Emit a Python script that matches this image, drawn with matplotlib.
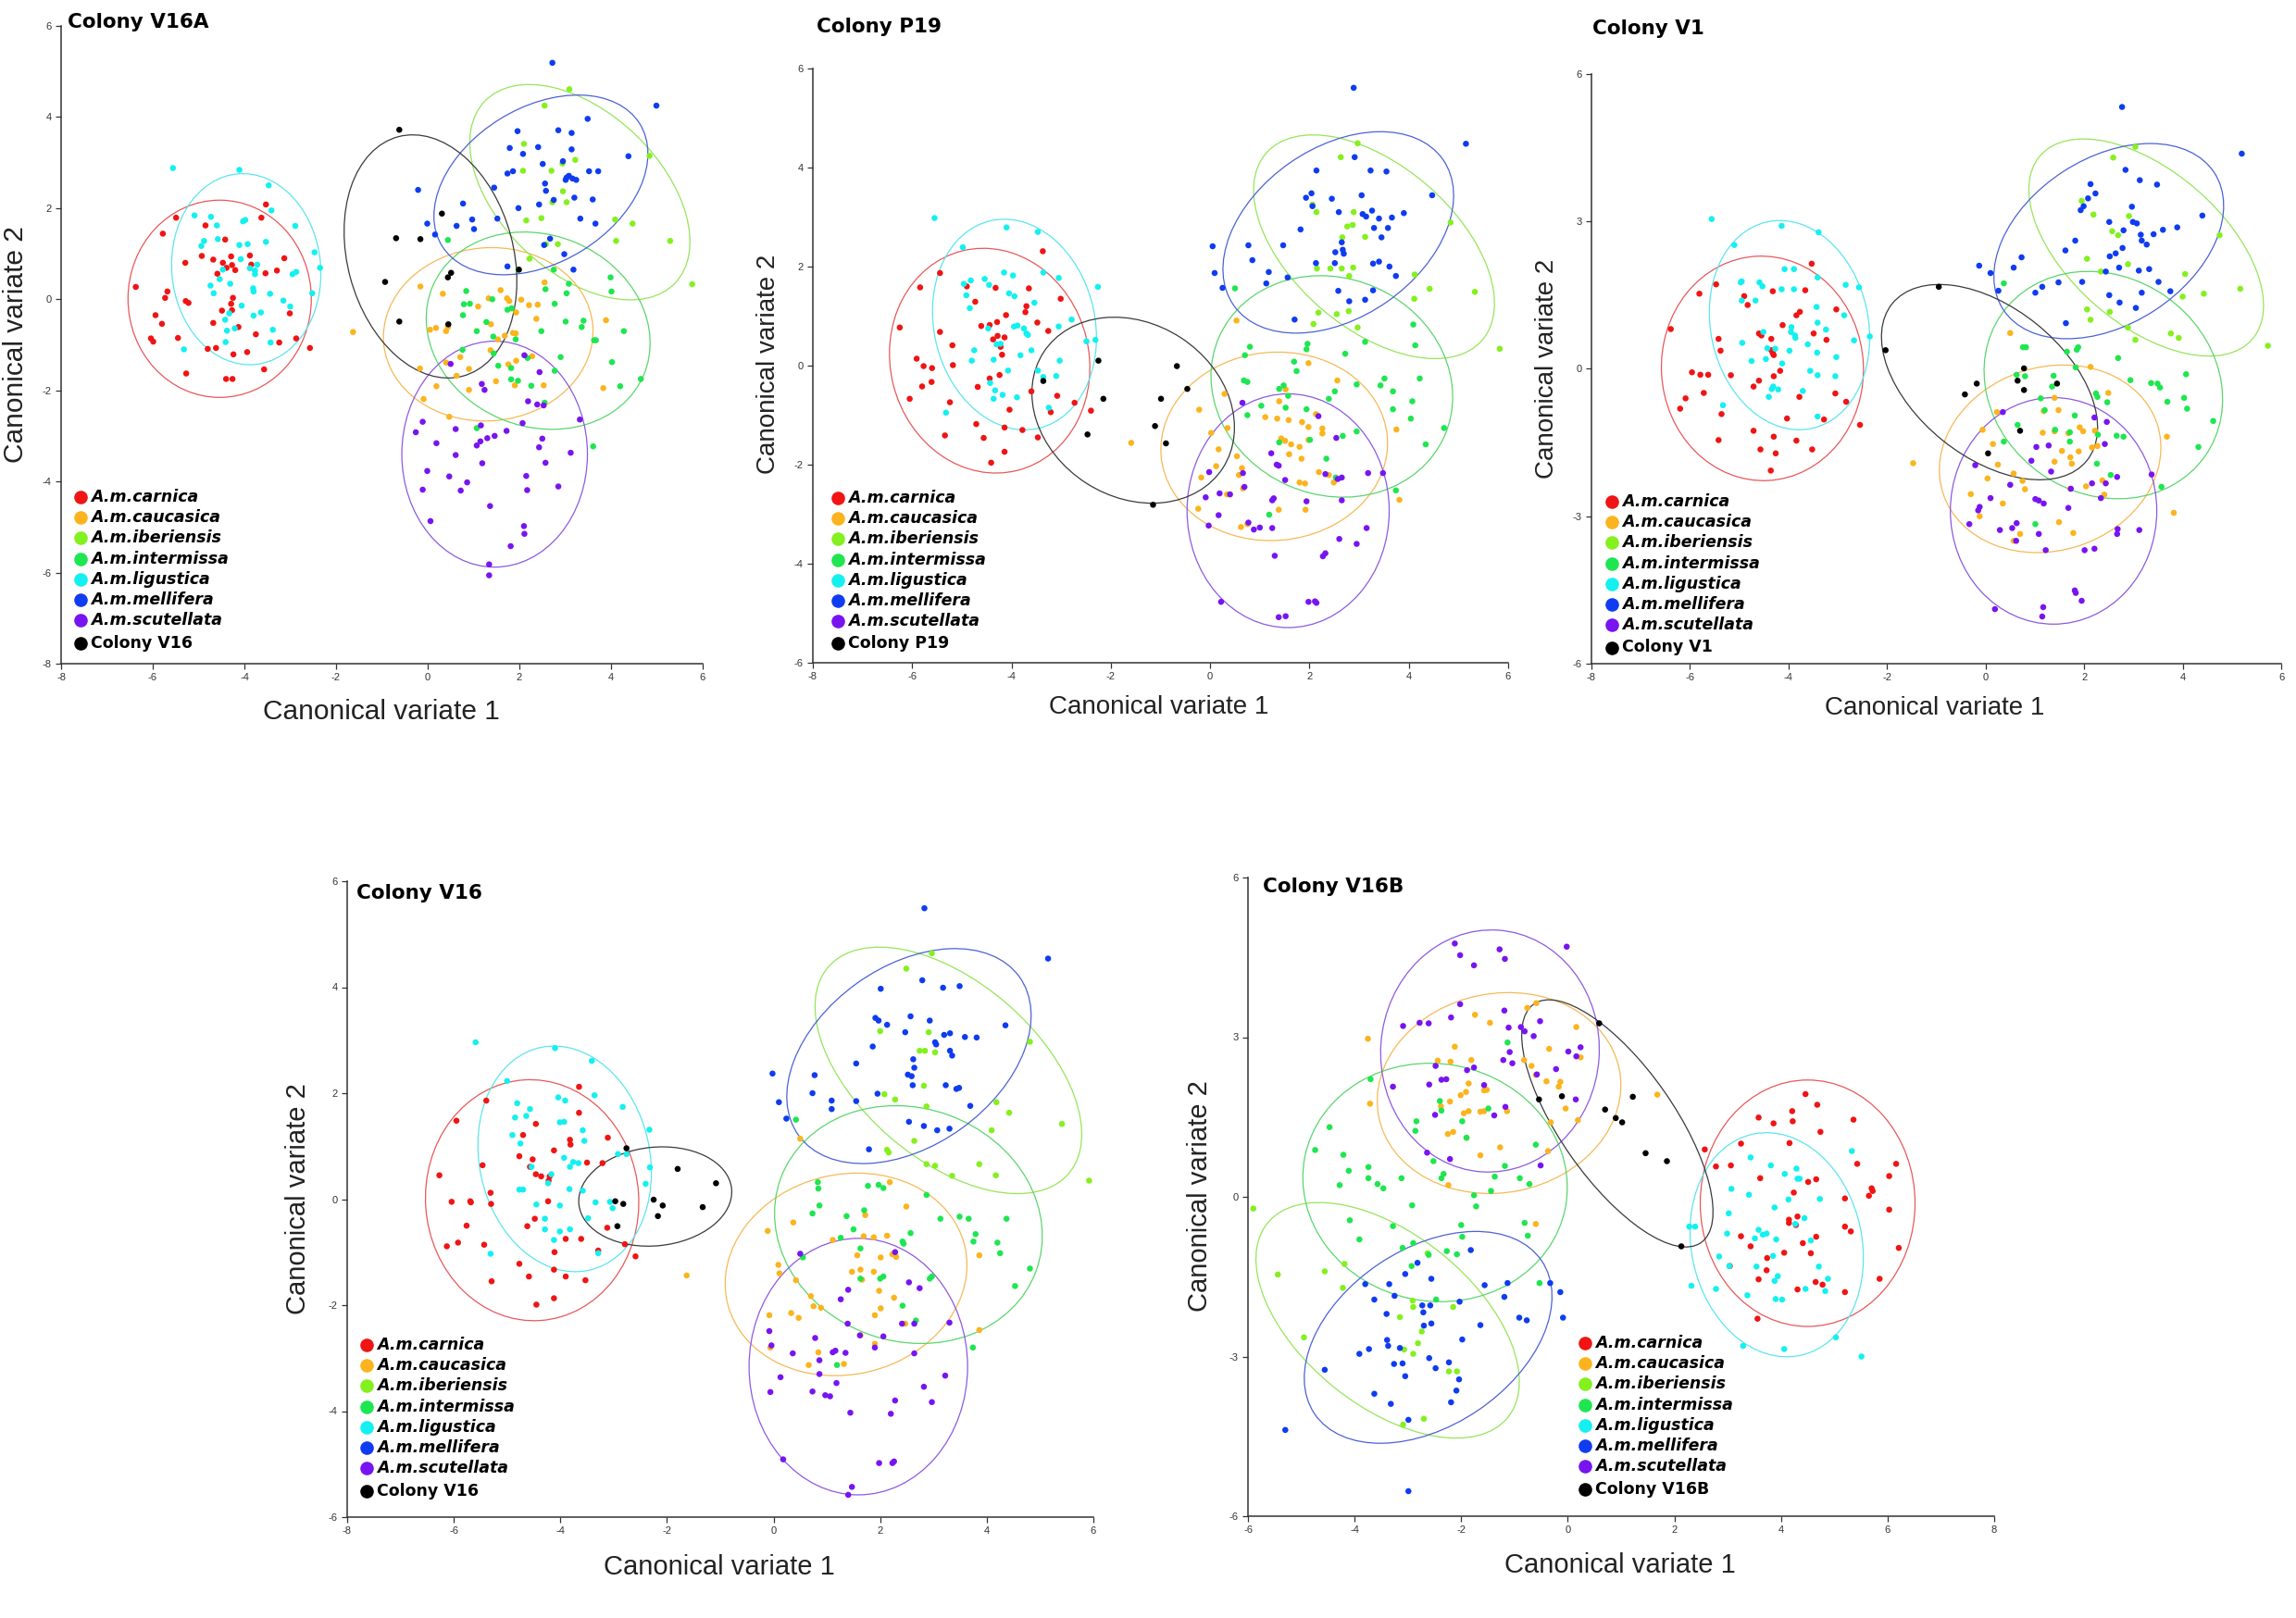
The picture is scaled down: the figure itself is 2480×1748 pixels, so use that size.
import numpy as np
import matplotlib
matplotlib.use('Agg')
import matplotlib.pyplot as plt
from matplotlib.patches import Ellipse

plt.rcParams['axes.unicode_minus'] = False

W, H = 2480, 1748

SPECIES = ['A.m.carnica', 'A.m.caucasica', 'A.m.iberiensis', 'A.m.intermissa',
           'A.m.ligustica', 'A.m.mellifera', 'A.m.scutellata']
DOT_COLORS = ['#f01414', '#fbb41e', '#84f01e', '#1ee650', '#14f0f0', '#0f3cf0', '#7814f0', '#000000']
RING_COLORS = ['#e8585a', '#f6b957', '#96e55a', '#5ad66c', '#5ae6ee', '#4b62d6', '#8c5ae0', '#3a3a3a']

# ---------------- Colony V16A ----------------
V16A_CARNICA = [(-6.37, 0.27), (-5.78, 1.44), (-5.49, 1.79), (-5.68, 0.17), (-5.73, 0.03), (-5.94, -0.35),
                (-5.80, -0.54), (-6.04, -0.86), (-5.99, -0.93), (-5.45, -0.85), (-5.28, -0.04), (-5.22, -0.08),
                (-5.29, 0.80), (-5.27, -1.63), (-4.85, 1.62), (-4.93, 0.95), (-4.68, 0.87), (-4.80, -1.09),
                (-4.62, -1.07), (-4.68, -0.52), (-4.47, 0.80), (-4.59, 0.56), (-4.42, 1.31), (-4.39, 0.69),
                (-4.27, 0.75), (-4.29, 0.94), (-4.20, 0.64), (-4.25, 0.03), (-4.29, -0.10), (-4.27, -0.24),
                (-4.49, -0.25), (-4.13, -0.61), (-4.24, -1.21), (-4.40, -1.75), (-4.26, -1.75), (-3.94, -1.16),
                (-3.88, 0.96), (-3.85, 0.76), (-3.75, -0.77), (-3.63, 1.79), (-3.53, 2.08), (-3.54, 0.57),
                (-3.57, -1.54), (-3.29, 0.63), (-3.13, 0.90), (-3.01, -0.31), (-3.24, -0.95), (-2.87, -0.86),
                (-2.57, -1.07)]
V16A_CAUCASICA = [(-1.63, -0.72), (-0.16, 0.28), (0.33, 0.12), (1.33, 0.02), (1.59, 0.20), (1.73, 0.02),
                  (1.78, -0.04), (2.04, -0.01), (2.21, -0.13), (2.40, -0.12), (1.10, -0.16), (2.55, 0.37),
                  (0.05, -0.67), (0.18, -0.63), (0.40, -0.70), (0.44, -0.61), (1.38, -0.55), (1.53, -0.88),
                  (1.68, -0.80), (1.86, -0.74), (1.92, -0.75), (1.93, -0.29), (2.37, -0.43), (3.89, -0.46),
                  (0.40, -1.39), (0.71, -1.27), (0.90, -1.53), (1.37, -1.12), (1.76, -1.43), (1.93, -1.35),
                  (2.28, -1.25), (-0.17, -1.52), (0.19, -1.91), (0.63, -1.68), (0.90, -1.99), (1.49, -1.80),
                  (1.90, -1.89), (2.53, -1.89), (3.83, -1.95), (-0.09, -2.19), (0.47, -2.58)]
V16A_IBERIENSIS = [(3.09, 4.61), (2.55, 4.25), (2.10, 3.41), (2.08, 2.82), (2.70, 2.82), (2.94, 2.98),
                   (3.22, 3.06), (2.95, 2.37), (3.03, 2.13), (2.72, 2.13), (4.84, 3.15), (2.15, 1.73),
                   (2.48, 1.78), (4.09, 1.75), (4.47, 1.66), (4.11, 1.28), (5.29, 1.28), (5.77, 0.33),
                   (2.58, 1.21), (2.84, 1.21), (2.22, 0.89)]
V16A_INTERMISSA = [(0.44, 1.30), (1.98, 0.65), (2.75, 0.65), (3.08, 0.34), (2.57, 0.22), (0.84, 0.18),
                   (0.79, -0.11), (0.92, -0.10), (3.03, 0.13), (3.99, 0.48), (4.01, 0.17), (2.77, -0.10),
                   (1.41, 0.00), (0.77, -0.35), (1.74, -0.23), (1.83, -0.20), (1.28, -0.50), (1.07, -0.70),
                   (1.43, -0.82), (1.92, -0.88), (2.48, -0.70), (3.01, -0.49), (3.40, -0.47), (3.36, -0.61),
                   (3.63, -0.90), (3.67, -0.90), (4.28, -0.70), (1.44, -1.19), (0.76, -1.11), (1.54, -1.46),
                   (1.82, -1.51), (2.18, -1.29), (2.77, -1.57), (2.90, -1.27), (4.02, -1.38), (1.82, -1.76),
                   (1.97, -1.79), (2.26, -1.90), (2.55, -2.27), (4.20, -1.91), (4.65, -1.75), (1.07, -2.83),
                   (3.61, -3.23)]
V16A_LIGUSTICA = [(-5.56, 2.88), (-4.11, 2.84), (-3.47, 2.50), (-3.41, 1.95), (-5.09, 1.84), (-4.73, 1.81),
                  (-4.60, 1.62), (-4.88, 1.28), (-4.94, 1.17), (-4.58, 1.32), (-3.98, 1.74), (-4.03, 1.71),
                  (-4.11, 1.19), (-3.93, 1.21), (-3.53, 1.26), (-2.89, 1.61), (-2.47, 1.03), (-2.35, 0.69),
                  (-2.87, 0.60), (-2.95, 0.55), (-4.47, 0.65), (-4.54, 0.44), (-4.74, 0.30), (-4.08, 0.88),
                  (-3.88, 0.68), (-3.77, 0.63), (-3.72, 0.76), (-3.77, 0.55), (-4.31, 0.34), (-4.67, 0.13),
                  (-3.81, 0.24), (-3.80, 0.17), (-3.44, 0.12), (-3.15, -0.03), (-3.00, -0.16), (-4.06, -0.14),
                  (-4.33, -0.31), (-4.42, -0.45), (-4.21, -0.64), (-4.38, -0.69), (-3.80, -0.36), (-3.64, -0.29),
                  (-3.38, -0.67), (-3.43, -0.95), (-4.41, -0.94), (-5.32, -1.10), (-2.52, 0.13)]
V16A_MELLIFERA = [(2.72, 5.19), (4.99, 4.25), (3.49, 3.96), (1.96, 3.69), (2.85, 3.71), (3.14, 3.65),
                  (1.79, 3.32), (2.41, 3.34), (2.08, 3.19), (4.38, 3.14), (2.51, 2.97), (2.95, 3.03),
                  (3.14, 3.29), (1.74, 2.76), (1.86, 2.81), (1.45, 2.45), (2.56, 2.54), (2.58, 2.38),
                  (3.03, 2.67), (3.08, 2.71), (3.16, 2.65), (3.24, 2.62), (3.01, 2.62), (3.52, 2.81),
                  (3.72, 2.81), (3.20, 2.23), (3.60, 2.19), (2.75, 2.18), (2.43, 2.08), (1.98, 2.00),
                  (3.33, 1.77), (3.66, 1.66), (-0.21, 2.40), (0.77, 2.10), (-0.01, 1.66), (0.97, 1.75),
                  (1.01, 1.54), (0.63, 1.61), (0.16, 1.42), (1.52, 1.77), (2.67, 1.33), (2.54, 1.19),
                  (2.98, 0.99), (3.18, 0.65), (1.74, 0.72)]
V16A_SCUTELLATA = [(0.50, -1.42), (1.18, -1.86), (1.24, -1.99), (2.11, -1.23), (2.44, -1.60), (2.19, -2.24),
                   (2.39, -2.31), (2.53, -2.33), (2.07, -2.72), (3.32, -2.64), (-0.11, -2.69), (-0.26, -2.92),
                   (0.61, -2.85), (1.16, -2.77), (0.19, -3.16), (1.07, -3.21), (1.15, -3.12), (1.30, -3.05),
                   (1.46, -3.00), (1.72, -2.89), (2.50, -3.06), (2.43, -3.25), (0.61, -3.42), (1.19, -3.60),
                   (2.57, -3.59), (3.12, -3.37), (-0.01, -3.77), (0.47, -3.89), (-0.11, -4.18), (0.86, -4.02),
                   (0.72, -4.20), (2.15, -3.88), (2.17, -4.19), (2.85, -4.11), (1.36, -4.54), (0.06, -4.87),
                   (2.10, -4.98), (2.11, -5.15), (1.81, -5.42), (1.34, -5.82), (1.34, -6.06)]
V16A_COLONY = [(-0.62, 3.72), (0.31, 1.88), (-0.69, 1.34), (-0.16, 1.32), (0.51, 0.58), (0.44, 0.48),
               (-0.93, 0.38), (-0.62, -0.49), (0.45, -0.55), (1.99, 0.65)]
# ellipses: centre x, centre y, width, height, angle
V16A_RINGS = [(-4.54, 0.01, 4.0, 4.33, 0), (1.32, -0.77, 4.58, 3.8, 5), (3.32, 2.35, 5.76, 3.5, -44),
              (2.41, -0.69, 5.0, 4.2, -23), (-3.96, 0.66, 3.25, 4.2, 5), (2.47, 2.51, 5.08, 3.4, 32),
              (1.46, -3.40, 4.05, 4.96, 0), (0.06, 0.94, 5.44, 3.62, -75)]

# ---------------- Colony P19 ----------------
P19_CARNICA = [(-6.25, 0.77), (-5.84, 1.58), (-5.44, 1.87), (-5.44, 0.68), (-5.91, 0.14), (-5.77, -0.01),
               (-5.60, -0.05), (-5.61, -0.33), (-6.05, -0.67), (-5.80, -0.42), (-5.19, 0.41), (-5.18, 0.01),
               (-5.24, -0.74), (-5.34, -1.41), (-4.90, 1.60), (-4.73, 1.29), (-4.61, 0.80), (-4.44, 0.82),
               (-4.29, 0.88), (-4.32, 1.57), (-4.28, 0.60), (-4.37, 0.53), (-4.22, 0.38), (-4.14, 0.57),
               (-4.19, 0.22), (-4.11, 1.02), (-4.44, -0.26), (-4.24, -0.19), (-4.68, -0.43), (-4.56, -1.46),
               (-4.71, -1.18), (-4.14, -1.25), (-4.14, -1.74), (-4.41, -1.96), (-4.04, -0.89), (-3.72, 1.08),
               (-3.70, 1.20), (-3.65, 1.56), (-3.48, 0.87), (-3.37, 2.31), (-3.01, 1.35), (-3.26, 0.70),
               (-3.60, -0.52), (-3.08, -0.61), (-3.78, -1.30), (-3.47, -1.45), (-3.21, -0.94), (-2.73, -0.75),
               (-2.40, -0.91)]
P19_CAUCASICA = [(0.53, 0.91), (1.98, 0.05), (2.56, -0.30), (0.29, -0.57), (-0.22, -0.89), (0.35, -1.26),
                 (0.02, -1.36), (-1.59, -1.56), (0.17, -1.69), (1.39, -0.72), (1.52, -0.48), (1.11, -1.04),
                 (1.35, -1.07), (1.58, -1.10), (1.85, -1.14), (1.98, -1.24), (2.13, -0.98), (2.26, -1.27),
                 (1.51, -1.52), (1.43, -1.47), (1.63, -1.59), (1.98, -1.50), (2.26, -1.37), (1.59, -1.79),
                 (1.84, -1.88), (1.80, -1.64), (3.75, -1.29), (0.54, -1.83), (0.12, -2.03), (-0.18, -2.26),
                 (0.64, -2.07), (0.58, -2.21), (0.66, -2.48), (0.34, -2.60), (1.80, -2.36), (1.91, -2.38),
                 (2.19, -2.15), (2.39, -2.21), (2.49, -2.36), (3.81, -2.71), (-0.24, -2.89), (0.62, -3.26),
                 (0.75, -3.20), (1.38, -2.91), (1.92, -2.91)]
P19_IBERIENSIS = [(2.97, 4.49), (2.63, 4.21), (2.06, 3.25), (2.14, 3.10), (2.89, 3.10), (2.76, 2.81),
                  (2.87, 2.84), (2.66, 2.59), (3.12, 2.60), (2.65, 1.96), (2.88, 1.98), (2.15, 1.96),
                  (2.42, 1.96), (4.84, 2.89), (4.12, 1.84), (4.42, 1.55), (5.33, 1.49), (5.83, 0.34),
                  (4.11, 1.35), (2.80, 1.81), (2.18, 1.07), (2.08, 0.84), (2.55, 1.04), (2.79, 1.10),
                  (2.97, 0.77)]
P19_INTERMISSA = [(0.50, 1.56), (0.80, 0.38), (0.70, 0.21), (3.12, 0.48), (1.94, 0.33), (1.96, 0.44),
                  (1.69, 0.08), (1.74, -0.11), (2.72, 0.24), (4.09, 0.83), (4.13, 0.41), (0.68, -0.30),
                  (0.75, -0.33), (1.39, -0.47), (1.48, -0.40), (1.52, -0.85), (0.75, -1.00), (1.03, -0.81),
                  (1.57, -0.61), (2.39, -0.67), (2.51, -0.52), (2.95, -0.38), (3.51, -0.26), (3.43, -0.40),
                  (3.68, -0.52), (4.22, -0.26), (4.07, -0.72), (3.68, -0.88), (4.04, -1.07), (4.71, -1.26),
                  (4.34, -1.59), (1.94, -0.88), (2.67, -1.42), (2.95, -1.33), (1.39, -1.55), (2.34, -1.88),
                  (2.01, -1.50), (2.53, -2.26), (3.74, -2.52), (1.19, -3.01)]
P19_LIGUSTICA = [(-5.55, 2.98), (-4.98, 2.39), (-4.10, 2.79), (-3.47, 2.70), (-3.36, 1.88), (-3.05, 1.77),
                 (-2.26, 1.59), (-4.96, 1.65), (-4.82, 1.72), (-4.54, 1.75), (-4.45, 1.63), (-4.91, 1.42),
                 (-4.84, 1.16), (-4.15, 1.88), (-3.97, 1.82), (-4.05, 1.46), (-3.94, 1.40), (-3.54, 1.27),
                 (-3.95, 0.79), (-3.88, 0.81), (-3.75, 0.75), (-3.70, 0.65), (-3.67, 0.62), (-3.05, 0.79),
                 (-2.79, 0.93), (-2.31, 0.52), (-2.49, 0.49), (-4.47, 0.75), (-4.30, 0.43), (-4.22, 0.44),
                 (-4.75, 0.31), (-4.80, 0.10), (-4.36, 0.12), (-3.82, 0.21), (-3.60, 0.31), (-3.03, 0.10),
                 (-3.47, -0.10), (-3.36, -0.23), (-3.10, -0.21), (-4.43, -0.35), (-4.33, -0.50), (-4.36, -0.67),
                 (-4.18, -0.59), (-4.07, -0.10), (-3.89, -0.64), (-3.25, -0.85), (-5.32, -0.95)]
P19_MELLIFERA = [(2.89, 5.61), (5.15, 4.48), (2.91, 4.21), (2.14, 3.94), (3.23, 3.94), (3.55, 3.92),
                 (2.04, 3.48), (1.93, 3.39), (2.06, 3.22), (2.45, 3.37), (3.05, 3.44), (4.47, 3.44),
                 (2.59, 3.10), (3.07, 3.06), (3.26, 3.13), (3.14, 3.01), (3.40, 2.97), (3.66, 2.99),
                 (3.90, 3.08), (1.82, 2.75), (3.30, 2.78), (3.58, 2.78), (3.45, 2.59), (2.65, 2.49),
                 (2.67, 2.34), (2.52, 2.29), (2.69, 2.26), (1.47, 2.43), (0.77, 2.43), (0.05, 2.41),
                 (0.85, 2.13), (2.13, 2.07), (2.51, 2.07), (3.28, 2.06), (3.40, 2.10), (3.61, 2.00),
                 (3.74, 1.81), (1.18, 1.89), (1.56, 1.78), (0.09, 1.87), (0.25, 1.57), (1.13, 1.66),
                 (2.58, 1.51), (3.28, 1.52), (2.80, 1.30), (3.12, 1.33), (1.70, 0.93)]
P19_SCUTELLATA = [(0.65, -0.75), (1.23, -1.77), (1.34, -2.00), (2.18, -1.02), (2.54, -1.46), (2.65, -2.26),
                  (2.57, -2.29), (2.32, -2.19), (3.18, -2.17), (3.48, -2.17), (1.51, -2.31), (1.38, -2.02),
                  (-0.02, -2.15), (-0.09, -2.66), (0.19, -2.58), (0.40, -2.60), (0.69, -2.45), (1.28, -2.68),
                  (1.25, -2.72), (1.94, -2.74), (2.65, -2.72), (0.17, -3.02), (-0.03, -3.23), (0.77, -3.17),
                  (0.88, -3.31), (1.00, -3.27), (1.25, -3.28), (2.32, -3.79), (2.27, -3.85), (2.60, -3.50),
                  (2.95, -3.60), (3.15, -3.28), (1.30, -3.84), (0.22, -4.77), (1.98, -4.77), (2.11, -4.76),
                  (2.14, -4.79), (1.38, -5.08), (1.52, -5.06), (0.66, -2.17)]
P19_COLONY = [(-2.25, 0.10), (-3.36, -0.31), (-2.15, -0.67), (-2.47, -1.39), (-0.67, -0.01), (-0.46, -0.47),
              (-0.99, -0.67), (-1.11, -1.22), (-0.89, -1.57), (-1.15, -2.81)]
P19_RINGS = [(-4.44, 0.10, 4.0, 4.57, 14), (1.29, -1.63, 4.57, 3.8, 5), (3.30, 2.40, 5.76, 3.28, -41),
             (2.45, -0.42, 4.96, 4.37, -24), (-3.94, 0.83, 3.24, 4.3, 13), (2.58, 2.69, 5.14, 3.42, 35),
             (1.57, -2.93, 4.07, 4.72, 0), (-1.55, -0.90, 4.3, 3.5, -33)]

# ---------------- Colony V1 ----------------
V1_CARNICA = [(-6.39, 0.81), (-5.81, 1.53), (-5.47, 1.72), (-5.42, 0.61), (-5.38, 0.37), (-5.96, -0.07),
              (-5.79, -0.12), (-5.63, -0.12), (-5.17, -0.13), (-5.72, -0.49), (-6.09, -0.60), (-6.20, -0.81),
              (-5.36, -0.92), (-5.42, -1.45), (-4.90, 1.48), (-4.83, 1.30), (-4.60, 0.72), (-4.55, 0.68),
              (-4.35, 0.61), (-4.32, 1.58), (-4.35, 0.38), (-4.32, 0.32), (-4.30, 0.28), (-4.12, 0.89),
              (-4.60, -0.24), (-4.71, -0.36), (-4.30, -0.15), (-4.17, -0.04), (-4.71, -1.26), (-4.57, -1.64),
              (-4.30, -1.38), (-4.26, -1.72), (-4.36, -2.07), (-4.03, -1.01), (-3.84, 1.09), (-3.77, 1.16),
              (-3.66, 1.60), (-3.49, 0.72), (-3.53, 2.14), (-3.03, 1.21), (-3.23, 0.59), (-3.78, -0.57),
              (-3.05, -0.50), (-3.84, -1.46), (-3.52, -1.64), (-3.28, -1.03), (-2.83, -0.67), (-2.55, -1.14)]
V1_CAUCASICA = [(0.50, 0.73), (2.13, 0.04), (2.49, -0.49), (0.23, -0.88), (-0.06, -1.24), (0.15, -1.53),
                (-1.47, -1.92), (0.25, -1.95), (1.40, -0.59), (1.48, -0.84), (1.16, -1.30), (1.40, -1.27),
                (1.68, -1.31), (1.91, -1.19), (1.98, -1.27), (2.22, -1.26), (2.27, -1.57), (1.40, -1.89),
                (1.55, -1.67), (1.72, -1.80), (1.89, -1.68), (2.16, -1.60), (1.75, -1.93), (3.68, -1.38),
                (-0.30, -2.55), (0.04, -2.23), (0.57, -2.13), (0.75, -2.28), (0.80, -2.45), (0.35, -2.74),
                (1.72, -2.44), (2.04, -2.39), (2.37, -2.27), (2.41, -2.56), (3.82, -2.93), (-0.12, -3.00),
                (0.57, -3.50), (0.70, -3.36), (1.49, -3.12), (1.78, -3.34), (1.18, -0.86)]
V1_IBERIENSIS = [(3.04, 4.52), (2.59, 4.30), (1.95, 3.42), (2.19, 3.14), (2.91, 3.11), (2.57, 2.80),
                 (2.69, 2.72), (2.89, 2.13), (2.06, 2.24), (2.34, 1.98), (4.75, 2.72), (4.05, 1.93),
                 (4.43, 1.53), (5.17, 1.63), (5.73, 0.47), (4.00, 1.47), (3.92, 0.63), (2.06, 1.21),
                 (2.13, 1.00), (2.52, 1.16), (2.89, 0.84), (3.04, 0.59), (3.76, 0.72)]
V1_INTERMISSA = [(0.37, 1.74), (0.76, 0.44), (0.82, 0.44), (1.65, 0.35), (1.85, 0.39), (1.88, 0.44),
                 (1.83, 0.03), (2.69, 0.22), (4.07, -0.11), (0.63, -0.12), (0.80, -0.15), (1.38, -0.14),
                 (1.35, -0.36), (1.12, -0.60), (2.24, -0.50), (2.27, -0.57), (2.47, -0.68), (2.94, -0.23),
                 (3.36, -0.29), (3.49, -0.30), (3.54, -0.38), (3.69, -0.67), (4.03, -0.59), (4.09, -0.81),
                 (4.62, -1.06), (4.32, -1.59), (1.81, -0.95), (0.65, -1.14), (0.37, -1.48), (1.41, -1.24),
                 (1.71, -1.29), (2.28, -1.34), (2.66, -1.36), (2.80, -1.38), (2.26, -1.93), (2.54, -2.16),
                 (3.57, -2.40), (1.01, -3.16), (1.20, -0.84), (1.71, -1.48)]
V1_LIGUSTICA = [(-5.56, 3.05), (-5.10, 2.52), (-4.14, 2.91), (-3.39, 2.78), (-3.41, 1.86), (-2.84, 1.71),
                (-2.57, 1.66), (-4.97, 1.76), (-4.95, 1.78), (-4.59, 1.76), (-4.53, 1.68), (-4.95, 1.39),
                (-4.67, 1.39), (-4.08, 2.03), (-3.89, 2.03), (-4.14, 1.62), (-3.89, 1.62), (-3.43, 1.26),
                (-3.94, 0.85), (-3.95, 0.75), (-3.87, 0.68), (-3.86, 0.63), (-3.41, 0.94), (-3.24, 0.80),
                (-2.87, 1.09), (-2.67, 0.58), (-2.35, 0.66), (-4.51, 0.75), (-4.43, 0.42), (-4.27, 0.41),
                (-4.75, 0.16), (-4.94, 0.53), (-4.46, 0.20), (-3.61, 0.50), (-3.42, 0.33), (-3.03, 0.24),
                (-3.56, -0.04), (-3.41, -0.13), (-3.05, -0.15), (-4.13, 0.11), (-4.31, -0.36), (-4.34, -0.41),
                (-4.40, -0.57), (-4.21, -0.42), (-3.71, -0.45), (-3.41, -0.97), (-5.33, -0.74), (-3.98, 0.37)]
V1_MELLIFERA = [(2.77, 5.33), (5.20, 4.38), (2.84, 4.05), (2.13, 3.76), (3.13, 3.84), (3.48, 3.75),
                (2.23, 3.57), (2.08, 3.47), (1.93, 3.23), (1.99, 3.31), (2.97, 3.30), (4.40, 3.12),
                (2.51, 2.99), (2.80, 2.82), (2.99, 2.99), (3.07, 2.96), (3.15, 2.73), (3.41, 2.74),
                (3.60, 2.83), (3.89, 2.88), (1.82, 2.61), (3.17, 2.61), (3.27, 2.53), (1.62, 2.41),
                (2.52, 2.29), (2.64, 2.35), (2.78, 2.46), (0.73, 2.27), (-0.13, 2.10), (0.10, 1.95),
                (0.57, 2.06), (1.96, 1.77), (2.44, 1.98), (2.71, 2.06), (3.11, 2.00), (3.32, 2.03),
                (3.51, 1.77), (1.48, 1.76), (1.15, 1.67), (0.26, 1.59), (1.01, 1.55), (2.51, 1.50),
                (3.17, 1.55), (2.72, 1.35), (3.05, 1.24), (1.63, 0.93), (3.75, 1.58)]
V1_SCUTELLATA = [(0.35, -0.88), (1.03, -1.59), (1.28, -1.56), (2.21, -0.99), (2.46, -1.08), (2.42, -1.53),
                 (2.34, -2.63), (2.16, -2.33), (2.44, -2.33), (3.37, -2.15), (1.33, -2.09), (0.93, -1.87),
                 (-0.21, -1.96), (0.10, -2.63), (0.50, -2.36), (1.01, -2.65), (1.08, -2.68), (1.68, -2.83),
                 (1.73, -2.44), (-0.12, -2.81), (-0.15, -2.88), (-0.33, -3.16), (0.29, -3.28), (0.54, -3.24),
                 (0.63, -3.14), (1.08, -3.36), (1.18, -2.74), (1.22, -3.69), (2.01, -3.69), (2.21, -3.66),
                 (2.67, -3.36), (2.68, -3.26), (3.12, -3.28), (2.67, -2.20), (0.19, -4.89), (1.81, -4.51),
                 (1.83, -4.56), (1.95, -4.72), (1.17, -4.85), (1.15, -5.04), (0.62, -3.50)]
V1_COLONY = [(-0.95, 1.67), (-2.03, 0.38), (-0.42, -0.52), (-0.18, -0.30), (0.65, -0.24), (0.78, 0.01),
             (0.78, -0.43), (1.45, -0.30), (0.70, -1.26), (0.05, -1.72)]
V1_RINGS = [(-4.53, 0.01, 4.1, 4.57, 3), (1.31, -1.83, 4.57, 3.73, 18), (3.26, 2.47, 5.7, 3.12, -41),
            (2.39, -0.33, 5.04, 4.41, -35), (-3.98, 0.89, 3.2, 4.3, 12), (2.50, 2.60, 5.11, 3.38, 33),
            (1.38, -2.89, 4.19, 4.61, 0), (0.08, -0.27, 5.08, 3.04, -39)]

# ---------------- Colony V16 ----------------
V16_CARNICA = [(-6.27, 0.45), (-5.95, 1.48), (-5.39, 1.86), (-5.46, 0.64), (-5.31, 0.12), (-5.30, -0.09),
               (-6.04, -0.05), (-5.69, -0.04), (-5.68, -0.06), (-5.76, -0.50), (-5.92, -0.82), (-6.13, -0.89),
               (-5.43, -0.86), (-5.29, -1.55), (-4.70, 1.21), (-4.77, 0.81), (-4.46, 1.42), (-4.52, 0.75),
               (-4.46, 0.47), (-4.36, 0.43), (-4.20, 0.43), (-4.57, 0.61), (-4.22, 0.35), (-4.23, -0.04),
               (-4.12, 0.92), (-3.82, 1.12), (-3.81, 1.03), (-4.48, -0.37), (-4.62, -0.51), (-4.11, -1.00),
               (-4.12, -1.33), (-4.77, -1.22), (-4.59, -1.46), (-3.90, -1.46), (-4.12, -1.87), (-4.45, -1.99),
               (-3.65, 2.12), (-3.65, 1.63), (-3.50, 0.69), (-3.21, 0.68), (-3.11, 1.16), (-3.90, -0.75),
               (-3.61, -0.75), (-3.53, -1.53), (-3.12, -0.54), (-3.29, -0.97), (-2.79, -0.85), (-2.59, -1.08)]
V16_CAUCASICA = [(0.50, 1.14), (2.18, 0.32), (2.49, -0.14), (-0.11, -0.60), (0.37, -0.44), (0.09, -1.24),
                 (0.11, -1.40), (-1.63, -1.44), (0.42, -1.53), (1.72, -0.30), (1.11, -0.77), (1.69, -0.70),
                 (1.88, -0.72), (2.13, -0.69), (1.57, -1.06), (2.01, -1.10), (2.30, -1.09), (1.63, -1.33),
                 (1.47, -1.37), (1.66, -1.52), (1.88, -1.37), (2.23, -1.04), (1.98, -1.73), (2.26, -1.86),
                 (2.01, -2.06), (1.90, -2.19), (3.86, -1.06), (-0.08, -2.19), (0.33, -2.15), (0.47, -2.24),
                 (0.75, -2.02), (0.89, -2.05), (0.70, -1.83), (-0.06, -2.80), (0.84, -2.89), (0.66, -3.13),
                 (1.63, -2.57), (1.90, -2.73), (2.47, -2.35), (3.86, -2.47), (1.32, -3.11)]
V16_IBERIENSIS = [(2.97, 4.64), (2.49, 4.35), (2.00, 3.17), (2.91, 3.15), (2.74, 2.80), (2.84, 2.80),
                  (3.03, 2.77), (2.82, 2.14), (2.08, 1.98), (2.28, 1.88), (2.87, 1.75), (4.81, 2.97),
                  (4.18, 1.83), (4.42, 1.63), (5.41, 1.42), (5.92, 0.35), (4.09, 1.30), (2.64, 1.10),
                  (2.13, 0.93), (2.16, 0.88), (2.87, 0.66), (3.03, 0.63), (3.86, 0.66), (4.17, 0.45),
                  (3.35, 0.44)]
V16_INTERMISSA = [(0.42, 1.50), (0.83, 0.32), (0.84, 0.20), (1.77, 0.25), (1.97, 0.27), (2.06, 0.21),
                  (1.70, -0.21), (2.87, 0.08), (3.13, -0.37), (3.66, -0.37), (3.49, -0.33), (4.37, -0.37),
                  (0.73, -0.27), (0.86, -0.12), (1.37, -0.32), (1.50, -0.57), (1.26, -0.73), (1.63, -0.93),
                  (2.42, -0.80), (2.44, -0.84), (2.57, -0.64), (3.79, -0.66), (3.75, -0.80), (4.20, -0.82),
                  (4.25, -1.02), (4.81, -1.31), (4.53, -1.64), (2.97, -1.46), (2.93, -1.50), (0.55, -1.10),
                  (2.00, -1.50), (2.06, -1.46), (1.63, -1.50), (2.42, -2.01), (2.67, -2.29), (3.74, -2.80),
                  (1.19, -3.13)]
V16_LIGUSTICA = [(-5.59, 2.96), (-5.00, 2.23), (-4.10, 2.85), (-3.41, 2.61), (-3.36, 1.96), (-2.83, 1.74),
                 (-2.33, 1.31), (-4.81, 1.81), (-4.85, 1.54), (-4.57, 1.70), (-4.64, 1.57), (-4.90, 1.21),
                 (-4.75, 1.05), (-4.04, 1.92), (-3.91, 1.86), (-4.01, 1.45), (-3.93, 1.46), (-3.58, 1.30),
                 (-3.55, 1.10), (-3.93, 0.78), (-3.76, 0.70), (-3.66, 0.68), (-3.82, 0.61), (-2.92, 0.85),
                 (-2.76, 0.85), (-2.32, 0.60), (-2.40, 0.29), (-4.54, 0.61), (-4.23, 0.30), (-4.17, 0.47),
                 (-4.77, 0.18), (-4.70, 0.18), (-3.83, 0.19), (-3.58, 0.16), (-3.34, -0.06), (-3.07, -0.05),
                 (-3.02, -0.17), (-4.45, -0.10), (-4.29, -0.37), (-4.29, -0.57), (-4.01, -0.12), (-4.12, -0.77),
                 (-4.01, -0.61), (-3.82, -0.57), (-3.48, -0.36), (-3.29, -1.02), (-5.31, -1.03)]
V16_MELLIFERA = [(2.83, 5.49), (5.15, 4.54), (2.79, 4.13), (2.01, 3.97), (3.18, 3.99), (3.49, 4.02),
                 (1.91, 3.42), (1.97, 3.37), (2.13, 3.29), (2.47, 3.15), (2.57, 3.45), (2.93, 3.37),
                 (3.03, 2.96), (4.35, 3.28), (3.20, 3.10), (3.31, 3.13), (3.59, 3.06), (3.81, 3.05),
                 (1.86, 2.88), (3.31, 2.80), (3.35, 2.71), (3.05, 2.92), (2.62, 2.64), (2.64, 2.48),
                 (2.52, 2.35), (2.59, 2.32), (1.55, 2.56), (0.77, 2.34), (-0.02, 2.37), (0.73, 2.00),
                 (1.95, 1.99), (1.09, 1.86), (1.09, 1.70), (0.10, 1.83), (0.24, 1.52), (1.55, 1.85),
                 (2.61, 2.15), (3.23, 2.15), (3.48, 2.10), (3.69, 1.76), (3.43, 2.08), (2.54, 1.46),
                 (2.82, 1.38), (3.07, 1.30), (3.30, 1.33), (1.79, 0.94)]
V16_SCUTELLATA = [(0.50, -1.03), (1.26, -1.89), (1.40, -1.71), (2.28, -1.00), (2.54, -1.57), (2.74, -1.68),
                  (2.41, -2.35), (2.06, -2.59), (2.64, -2.35), (3.30, -2.33), (1.62, -2.57), (1.39, -2.35),
                  (-0.08, -2.49), (-0.04, -2.76), (0.36, -2.91), (0.78, -2.62), (1.11, -2.89), (1.16, -2.86),
                  (1.35, -2.90), (1.90, -2.80), (2.64, -2.91), (0.13, -3.36), (-0.06, -3.64), (0.86, -3.30),
                  (0.73, -3.63), (0.97, -3.70), (1.06, -3.72), (1.18, -3.47), (1.44, -4.03), (2.28, -3.80),
                  (2.20, -4.05), (2.82, -3.54), (2.97, -3.83), (3.22, -3.33), (0.86, -3.04), (0.18, -4.91),
                  (1.98, -4.98), (2.23, -4.98), (2.26, -4.95), (1.47, -5.43), (1.40, -5.58)]
V16_COLONY = [(-2.76, 0.96), (-1.80, 0.57), (-1.08, 0.30), (-2.97, -0.04), (-2.82, -0.09), (-2.93, -0.51),
              (-2.25, -0.01), (-2.08, -0.12), (-2.17, -0.32), (-1.33, -0.15)]
V16_RINGS = [(-4.53, -0.02, 4.0, 4.55, 4), (1.36, -1.42, 4.58, 3.77, 14), (3.28, 2.43, 5.96, 3.34, -41),
             (2.53, -0.48, 5.1, 4.4, -20), (-3.92, 0.76, 3.2, 4.3, 12), (2.54, 2.70, 5.11, 3.37, 36),
             (1.59, -3.16, 4.1, 4.84, 0), (-2.22, 0.05, 2.88, 1.86, 6)]

# ---------------- Colony V16B ----------------
V16B_CARNICA = [(4.46, 1.93), (4.68, 1.73), (4.21, 1.61), (4.22, 1.42), (3.58, 1.49), (3.86, 1.38),
                (5.36, 1.45), (4.74, 1.22), (4.16, 1.01), (6.16, 0.62), (5.43, 0.62), (6.03, 0.39),
                (5.70, 0.16), (5.72, 0.11), (5.65, 0.02), (6.03, -0.24), (6.21, -0.96), (5.85, -1.54),
                (2.57, 0.89), (2.78, 0.57), (3.06, 0.59), (3.25, 1.00), (3.61, 0.35), (4.24, 0.08),
                (4.51, 0.28), (4.66, 0.33), (5.20, -0.03), (4.15, -0.43), (4.31, -0.37), (4.15, -0.49),
                (4.28, -0.53), (5.20, -0.56), (5.31, -0.65), (3.25, -0.74), (3.43, -0.93), (4.41, -0.87),
                (4.66, -0.75), (4.56, -1.06), (4.06, -1.05), (3.74, -1.15), (3.04, -1.30), (3.73, -1.38),
                (3.58, -1.55), (4.65, -1.60), (4.78, -1.65), (4.31, -1.74), (5.20, -1.79), (3.56, -2.29)]
V16B_CAUCASICA = [(-3.75, 2.97), (-3.71, 1.75), (-1.74, 3.42), (-1.46, 3.27), (-0.76, 3.55), (-0.59, 3.64),
                  (0.16, 3.19), (-2.12, 2.82), (-1.81, 2.57), (-2.44, 2.56), (-2.20, 2.54), (-0.82, 2.57),
                  (-0.68, 2.46), (-0.35, 2.78), (0.24, 2.62), (-0.60, 2.29), (-0.40, 2.17), (-0.14, 2.16),
                  (-0.17, 2.07), (-1.86, 2.13), (-1.57, 2.00), (-1.52, 2.01), (-2.01, 1.91), (-1.91, 1.97),
                  (-2.38, 1.70), (-2.21, 1.79), (-1.95, 1.57), (-1.86, 1.61), (-1.64, 1.60), (-1.57, 1.61),
                  (-1.14, 1.61), (-2.25, 1.18), (-1.90, 1.11), (-0.04, 1.66), (0.19, 1.44), (-0.32, 1.40),
                  (1.68, 1.92), (-2.15, 1.22), (-1.27, 0.93), (-1.64, 0.78), (-0.37, 0.86), (-2.24, 0.22),
                  (-0.60, -0.51)]
V16B_IBERIENSIS = [(-5.90, -0.22), (-5.44, -1.46), (-4.56, -1.40), (-4.19, -1.26), (-4.22, -1.71),
                   (-4.95, -2.64), (-3.07, -2.87), (-2.90, -2.95), (-2.81, -2.75), (-3.15, -2.26),
                   (-2.91, -1.95), (-2.90, -2.07), (-2.74, -2.53), (-2.63, -1.06), (-2.15, -2.07),
                   (-2.23, -3.28), (-2.08, -3.28), (-2.70, -4.17), (-3.09, -4.28)]
V16B_INTERMISSA = [(-3.70, 2.21), (-4.47, 1.31), (-4.74, 0.88), (-4.21, 0.79), (-4.11, 0.49), (-3.74, 0.56),
                   (-3.74, 0.35), (-3.57, 0.24), (-3.46, 0.16), (-4.28, 0.22), (-3.12, 0.35), (-2.84, 1.42),
                   (-2.86, 1.24), (-2.40, 1.80), (-2.37, 1.62), (-1.98, 1.42), (-1.90, 1.11), (-1.49, 1.66),
                   (-1.13, 2.90), (-2.33, 0.43), (-2.37, 0.35), (-2.52, 0.67), (-1.76, 0.03), (-1.72, -0.18),
                   (-1.44, 0.11), (-1.18, 0.58), (-0.90, 0.35), (-0.72, 0.24), (-0.60, 0.98), (-1.37, 0.38),
                   (-2.92, -0.16), (-4.09, -0.44), (-3.91, -0.80), (-3.28, -0.55), (-3.10, -0.96),
                   (-2.90, -0.87), (-2.00, -0.53), (-1.98, -0.75), (-2.27, -1.02), (-2.08, -1.08),
                   (-2.61, -1.09), (-2.93, -1.30), (-0.81, -0.49), (-0.75, -0.73), (-0.53, -1.62),
                   (-2.47, -1.93)]
V16B_LIGUSTICA = [(5.33, 0.86), (3.43, 0.74), (3.81, 0.59), (4.29, 0.53), (4.31, 0.34), (4.35, 0.34),
                  (4.07, 0.43), (3.07, 0.15), (3.40, 0.04), (4.14, -0.05), (4.73, -0.04), (3.88, -0.20),
                  (3.02, -0.31), (4.44, -0.40), (2.39, -0.56), (2.28, -0.56), (2.99, -0.69), (3.58, -0.62),
                  (3.66, -0.71), (3.73, -0.69), (3.51, -0.78), (3.91, -0.80), (4.27, -0.51), (4.56, -0.82),
                  (2.84, -1.12), (3.85, -1.11), (3.03, -1.30), (3.54, -1.31), (4.71, -1.31), (3.94, -1.49),
                  (3.88, -1.58), (4.88, -1.54), (4.46, -1.73), (4.83, -1.77), (2.32, -1.67), (2.78, -1.73),
                  (3.37, -1.85), (3.90, -1.92), (4.02, -1.93), (3.29, -2.80), (4.06, -2.86), (5.03, -2.64),
                  (5.51, -3.00)]
V16B_MELLIFERA = [(-1.82, -1.00), (-2.82, -1.24), (-3.05, -1.45), (-2.56, -1.54), (-3.80, -1.64),
                  (-3.35, -1.64), (-3.25, -1.86), (-1.56, -1.66), (-1.13, -1.62), (-1.19, -1.88),
                  (-0.33, -1.62), (-0.14, -1.79), (-3.63, -1.93), (-3.40, -2.20), (-2.73, -2.04),
                  (-2.58, -2.04), (-2.71, -2.17), (-2.03, -1.97), (-0.09, -2.27), (-0.91, -2.27),
                  (-0.77, -2.32), (-1.64, -2.41), (-2.70, -2.42), (-2.56, -2.38), (-1.98, -2.68),
                  (-3.39, -2.69), (-3.37, -2.80), (-3.73, -2.86), (-3.15, -2.84), (-3.91, -2.95),
                  (-3.26, -3.14), (-3.10, -3.13), (-3.05, -3.37), (-2.60, -3.03), (-2.48, -3.22),
                  (-2.23, -3.11), (-2.04, -3.43), (-2.09, -3.64), (-2.19, -3.86), (-3.63, -3.70),
                  (-3.32, -3.89), (-4.56, -3.25), (-2.99, -4.19), (-5.30, -4.38), (-2.99, -5.53)]
V16B_SCUTELLATA = [(-2.12, 4.76), (-2.02, 4.54), (-1.76, 4.35), (-1.28, 4.65), (-1.18, 4.47), (-0.02, 4.70),
                   (-2.02, 3.62), (-3.09, 3.21), (-2.78, 3.27), (-2.61, 3.26), (-2.19, 3.37), (-1.19, 3.50),
                   (-1.11, 3.18), (-0.88, 3.19), (-0.81, 3.11), (-0.52, 3.30), (-0.64, 3.02), (-1.09, 2.72),
                   (-1.04, 2.51), (-1.21, 2.57), (0.01, 2.73), (0.16, 2.64), (0.24, 2.81), (-0.22, 2.40),
                   (-0.58, 2.30), (0.15, 1.83), (-2.48, 2.46), (-1.89, 2.38), (-1.76, 2.43), (-3.28, 2.07),
                   (-2.60, 2.11), (-2.37, 2.20), (-2.28, 2.21), (-1.57, 2.10), (-2.49, 1.54), (-1.38, 1.53),
                   (-1.17, 1.69), (-2.64, 0.83), (-2.21, 0.71), (-0.51, 0.59)]
V16B_COLONY = [(0.59, 3.26), (-0.54, 1.83), (-0.11, 1.89), (0.70, 1.64), (1.22, 1.88), (0.90, 1.48),
               (1.02, 1.40), (1.46, 0.82), (1.86, 0.67), (2.13, -0.93)]
V16B_RINGS = [(4.50, -0.12, 4.03, 4.63, 0), (-1.29, 1.95, 4.6, 3.74, 11), (-3.38, -2.32, 5.8, 3.22, -39),
              (-2.49, 0.27, 4.98, 4.46, -11), (3.92, -0.90, 3.2, 4.25, 12), (-2.62, -2.64, 5.14, 3.32, 34),
              (-1.46, 2.74, 4.1, 4.55, -4), (0.93, 1.38, 5.47, 2.13, -55)]

# panel layout in output pixels: axes left, right, top, bottom
PANELS = [
    dict(title='Colony V16A', colony='Colony V16', box=(66, 759, 28, 717),
         xlim=(-8, 6), ylim=(-8, 6), xticks=range(-8, 7, 2), yticks=range(-8, 7, 2),
         groups=[V16A_CARNICA, V16A_CAUCASICA, V16A_IBERIENSIS, V16A_INTERMISSA,
                 V16A_LIGUSTICA, V16A_MELLIFERA, V16A_SCUTELLATA, V16A_COLONY], rings=V16A_RINGS,
         title_xy=(73, 24), xlab_xy=(412, 769), ylab_xy=(17, 372), lab_size=21.5, leg_xy=(87, 537)),
    dict(title='Colony P19', colony='Colony P19', box=(878, 1629, 74, 716),
         xlim=(-8, 6), ylim=(-6, 6), xticks=range(-8, 7, 2), yticks=range(-6, 7, 2),
         groups=[P19_CARNICA, P19_CAUCASICA, P19_IBERIENSIS, P19_INTERMISSA,
                 P19_LIGUSTICA, P19_MELLIFERA, P19_SCUTELLATA, P19_COLONY], rings=P19_RINGS,
         title_xy=(882, 29), xlab_xy=(1252, 764), ylab_xy=(830, 393), lab_size=20, leg_xy=(905, 538)),
    dict(title='Colony V1', colony='Colony V1', box=(1719, 2464, 80, 717),
         xlim=(-8, 6), ylim=(-6, 6), xticks=range(-8, 7, 2), yticks=range(-6, 7, 3),
         groups=[V1_CARNICA, V1_CAUCASICA, V1_IBERIENSIS, V1_INTERMISSA,
                 V1_LIGUSTICA, V1_MELLIFERA, V1_SCUTELLATA, V1_COLONY], rings=V1_RINGS,
         title_xy=(1720, 31), xlab_xy=(2090, 765), ylab_xy=(1671, 398), lab_size=20, leg_xy=(1741, 542)),
    dict(title='Colony V16', colony='Colony V16', box=(375, 1181, 952, 1639),
         xlim=(-8, 6), ylim=(-6, 6), xticks=range(-8, 7, 2), yticks=range(-6, 7, 2),
         groups=[V16_CARNICA, V16_CAUCASICA, V16_IBERIENSIS, V16_INTERMISSA,
                 V16_LIGUSTICA, V16_MELLIFERA, V16_SCUTELLATA, V16_COLONY], rings=V16_RINGS,
         title_xy=(385, 965), xlab_xy=(777, 1693), ylab_xy=(322, 1295), lab_size=21, leg_xy=(396, 1453)),
    dict(title='Colony V16B', colony='Colony V16B', box=(1348, 2154, 948, 1638),
         xlim=(-6, 8), ylim=(-6, 6), xticks=range(-6, 9, 2), yticks=range(-6, 7, 3),
         groups=[V16B_CARNICA, V16B_CAUCASICA, V16B_IBERIENSIS, V16B_INTERMISSA,
                 V16B_LIGUSTICA, V16B_MELLIFERA, V16B_SCUTELLATA, V16B_COLONY], rings=V16B_RINGS,
         title_xy=(1364, 958), xlab_xy=(1750, 1691), ylab_xy=(1296, 1292), lab_size=21, leg_xy=(1712, 1451)),
]


def fx(x):
    return x / W


def fy(y):
    return 1 - y / H


fig = plt.figure(figsize=(W / 100, H / 100), dpi=100)

for p in PANELS:
    left, right, top, bottom = p['box']
    ax = fig.add_axes([fx(left), fy(bottom), (right - left) / W, (bottom - top) / H])
    ax.set_xlim(*p['xlim'])
    ax.set_ylim(*p['ylim'])
    ax.set_xticks(list(p['xticks']))
    ax.set_yticks(list(p['yticks']))
    ax.tick_params(direction='out', length=4.5, width=0.9, colors='#333333', labelsize=8, pad=3)
    for lab in ax.get_xticklabels() + ax.get_yticklabels():
        lab.set_family('Liberation Sans')
    for side in ['top', 'right']:
        ax.spines[side].set_visible(False)
    for side in ['left', 'bottom']:
        ax.spines[side].set_color('#333333')
        ax.spines[side].set_linewidth(1.1)

    for i, pts in enumerate(p['groups']):
        pts = np.array(pts)
        ax.scatter(pts[:, 0], pts[:, 1], s=22, color=DOT_COLORS[i], edgecolors='none', zorder=3)
    for i, (cx, cy, w, h, ang) in enumerate(p['rings']):
        ax.add_patch(Ellipse((cx, cy), w, h, angle=ang, fill=False,
                             edgecolor=RING_COLORS[i], linewidth=0.9, zorder=2))

    fig.text(fx(p['title_xy'][0]), fy(p['title_xy'][1]), p['title'], ha='left', va='center',
             fontsize=15.5, fontweight='bold', family='DejaVu Sans')
    fig.text(fx(p['xlab_xy'][0]), fy(p['xlab_xy'][1]), 'Canonical variate 1', ha='center', va='center',
             fontsize=p['lab_size'], family='Liberation Sans', color='#222222')
    fig.text(fx(p['ylab_xy'][0]), fy(p['ylab_xy'][1]), 'Canonical variate 2', ha='center', va='center',
             rotation=90, fontsize=p['lab_size'], family='Liberation Sans', color='#222222')

    # legend drawn by hand so the spacing follows the original
    lx, ly = p['leg_xy']
    labels = SPECIES + [p['colony']]
    for i, lab in enumerate(labels):
        yy = ly + i * 22.2 + (2.1 if i == 7 else 0)
        fig.add_artist(plt.Line2D([fx(lx)], [fy(yy)], marker='o', markersize=10.5, color=DOT_COLORS[i],
                                  markeredgewidth=0, linestyle='none', transform=fig.transFigure))
        fig.text(fx(lx + 11), fy(yy), lab, ha='left', va='center', fontsize=12.5, fontweight='bold',
                 fontstyle='italic' if i < 7 else 'normal', family='DejaVu Sans')

fig.savefig('out.png', dpi=100, facecolor='white')
